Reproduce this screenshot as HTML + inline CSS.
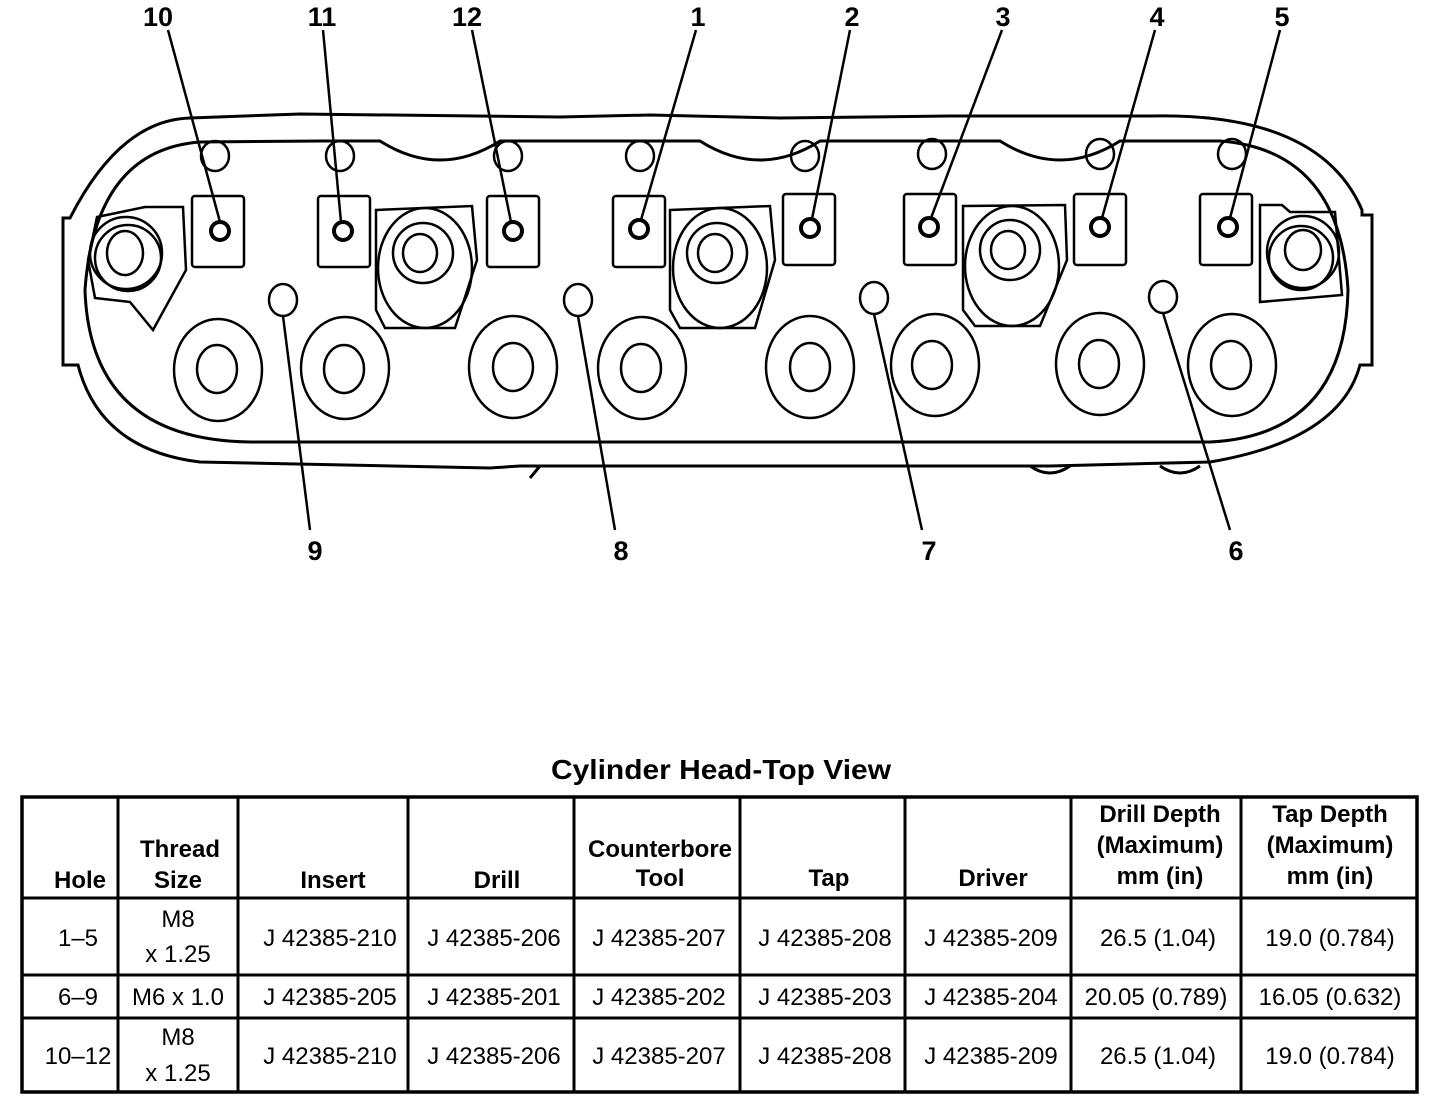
<!DOCTYPE html>
<html><head><meta charset="utf-8"><style>
html,body{margin:0;padding:0;background:#fff;}
svg{display:block;}
text{font-family:"Liberation Sans",Arial,sans-serif;fill:#000;}
.b{font-weight:bold;}
</style></head><body>
<svg width="1440" height="1108" viewBox="0 0 1440 1108" xmlns="http://www.w3.org/2000/svg">
<g fill="none" stroke="#000" stroke-width="3">
<!-- outer outline -->
<path d="M190,118 L300,114 L560,117 L650,115 L780,118 L950,116 L1150,116 Q1320,112 1362,210 L1362,215 L1372,215 L1372,365 L1360,365 Q1340,440 1210,462 L1050,466 L520,466 L490,468 L200,462 Q100,450 78,365 L63,365 L63,218 L70,218 Q120,120 190,118 Z"/>
<!-- inner outline -->
<path d="M200,142 L320,141 L380,141 Q410,160 440,160 Q470,160 500,141 L700,141 Q730,160 760,160 Q790,160 820,141 L1000,141 Q1030,160 1060,160 Q1090,160 1120,141 L1220,141 Q1340,150 1348,290 Q1345,435 1210,442 L250,442 Q90,440 85,290 Q95,150 200,142 Z"/>
<!-- bottom bumps -->
<path d="M1030,466 Q1050,480 1070,466 M1160,466 Q1180,480 1200,466 M540,466 L530,478" />
<!-- top small circles -->
<g stroke-width="2.5">
<ellipse cx="215" cy="156" rx="14" ry="15"/>
<ellipse cx="340" cy="156" rx="14" ry="15"/>
<ellipse cx="508" cy="156" rx="14" ry="15"/>
<ellipse cx="640" cy="156" rx="14" ry="15"/>
<ellipse cx="805" cy="156" rx="14" ry="15"/>
<ellipse cx="932" cy="154" rx="14" ry="15"/>
<ellipse cx="1100" cy="154" rx="14" ry="15"/>
<ellipse cx="1232" cy="154" rx="14" ry="15"/>
</g>
<!-- pads -->
<g stroke-width="2.5">
<rect x="192" y="196" width="52" height="71" rx="3"/>
<rect x="318" y="196" width="52" height="71" rx="3"/>
<rect x="487" y="196" width="52" height="71" rx="3"/>
<rect x="613" y="196" width="52" height="71" rx="3"/>
<rect x="783" y="194" width="52" height="71" rx="3"/>
<rect x="904" y="194" width="52" height="71" rx="3"/>
<rect x="1074" y="194" width="52" height="71" rx="3"/>
<rect x="1200" y="194" width="52" height="71" rx="3"/>
</g>
<g stroke-width="4">
<circle cx="220" cy="231" r="9"/>
<circle cx="343" cy="231" r="9"/>
<circle cx="513" cy="231" r="9"/>
<circle cx="639" cy="229" r="9"/>
<circle cx="810" cy="228" r="9"/>
<circle cx="929" cy="227" r="9"/>
<circle cx="1100" cy="227" r="9"/>
<circle cx="1228" cy="227" r="9"/>
</g>
<!-- spark plug bosses -->
<g stroke-width="2.5">
<path d="M376,210 L472,206 L477,260 L455,328 L385,328 L376,310 Z"/>
<ellipse cx="425" cy="268" rx="47" ry="60"/>
<ellipse cx="423" cy="253" rx="30" ry="30"/>
<ellipse cx="420" cy="253" rx="17" ry="19"/>
<path d="M670,210 L770,206 L775,260 L755,328 L680,328 L670,310 Z"/>
<ellipse cx="720" cy="268" rx="47" ry="60"/>
<ellipse cx="717" cy="253" rx="30" ry="30"/>
<ellipse cx="715" cy="253" rx="17" ry="19"/>
<path d="M963,206 L1065,205 L1067,260 L1040,326 L975,326 L963,310 Z"/>
<ellipse cx="1012" cy="266" rx="47" ry="60"/>
<ellipse cx="1010" cy="250" rx="30" ry="30"/>
<ellipse cx="1008" cy="250" rx="17" ry="19"/>
<!-- end plugs -->
<path d="M97,217 L145,207 L183,207 L186,270 L153,330 L130,302 L95,298 L88,260 Z"/>
<circle cx="126" cy="253" r="36"/><circle cx="128" cy="258" r="33"/>
<ellipse cx="125" cy="253" rx="18" ry="22"/>
<path d="M1260,205 L1282,205 L1290,212 L1335,212 L1342,295 L1260,302 Z"/>
<circle cx="1303" cy="252" r="36"/><circle cx="1301" cy="258" r="32"/>
<ellipse cx="1303" cy="250" rx="18" ry="20"/>
<!-- small holes 9-6 -->
<ellipse cx="283" cy="300" rx="14" ry="16"/>
<ellipse cx="578" cy="300" rx="14" ry="16"/>
<ellipse cx="874" cy="298" rx="14" ry="16"/>
<ellipse cx="1163" cy="297" rx="14" ry="16"/>
<!-- large circles -->
<ellipse cx="218" cy="370" rx="44" ry="51"/><ellipse cx="217" cy="369" rx="20" ry="24"/>
<ellipse cx="345" cy="368" rx="44" ry="51"/><ellipse cx="344" cy="369" rx="20" ry="24"/>
<ellipse cx="513" cy="367" rx="44" ry="51"/><ellipse cx="513" cy="367" rx="20" ry="24"/>
<ellipse cx="642" cy="368" rx="44" ry="51"/><ellipse cx="641" cy="368" rx="20" ry="24"/>
<ellipse cx="810" cy="367" rx="44" ry="51"/><ellipse cx="810" cy="367" rx="20" ry="24"/>
<ellipse cx="935" cy="365" rx="44" ry="51"/><ellipse cx="932" cy="365" rx="20" ry="24"/>
<ellipse cx="1100" cy="364" rx="44" ry="51"/><ellipse cx="1099" cy="364" rx="20" ry="24"/>
<ellipse cx="1232" cy="365" rx="44" ry="51"/><ellipse cx="1231" cy="365" rx="20" ry="24"/>
</g>
<!-- leaders -->
<g stroke-width="2.5">
<line x1="168" y1="30" x2="220" y2="222"/>
<line x1="323" y1="30" x2="341" y2="222"/>
<line x1="472" y1="30" x2="511" y2="222"/>
<line x1="696" y1="30" x2="641" y2="220"/>
<line x1="850" y1="30" x2="812" y2="219"/>
<line x1="1002" y1="30" x2="931" y2="218"/>
<line x1="1155" y1="30" x2="1102" y2="218"/>
<line x1="1280" y1="30" x2="1230" y2="218"/>
<line x1="283" y1="316" x2="310" y2="530"/>
<line x1="578" y1="316" x2="615" y2="530"/>
<line x1="874" y1="314" x2="922" y2="530"/>
<line x1="1163" y1="313" x2="1230" y2="530"/>
</g>
</g>
<g class="b" font-size="27" text-anchor="middle">
<text x="158" y="26">10</text><text x="322" y="26">11</text><text x="467" y="26">12</text>
<text x="698" y="26">1</text><text x="852" y="26">2</text><text x="1003" y="26">3</text>
<text x="1157" y="26">4</text><text x="1282" y="26">5</text>
<text x="315" y="560">9</text><text x="621" y="560">8</text><text x="929" y="560">7</text><text x="1236" y="560">6</text>
</g>
<text class="b" x="721" y="779" font-size="28" text-anchor="middle" textLength="340" lengthAdjust="spacingAndGlyphs">Cylinder Head-Top View</text>
<!-- table -->
<g stroke="#000" fill="none">
<rect x="22" y="797" width="1395" height="295" stroke-width="3.5"/>
<g stroke-width="3">
<line x1="118" y1="797" x2="118" y2="1092"/><line x1="238" y1="797" x2="238" y2="1092"/>
<line x1="408" y1="797" x2="408" y2="1092"/><line x1="574" y1="797" x2="574" y2="1092"/>
<line x1="740" y1="797" x2="740" y2="1092"/><line x1="905" y1="797" x2="905" y2="1092"/>
<line x1="1071" y1="797" x2="1071" y2="1092"/><line x1="1241" y1="797" x2="1241" y2="1092"/>
<line x1="22" y1="898" x2="1417" y2="898"/><line x1="22" y1="975" x2="1417" y2="975"/>
<line x1="22" y1="1018" x2="1417" y2="1018"/>
</g>
</g>
<g class="b" font-size="24" text-anchor="middle">
<text x="80" y="888">Hole</text>
<text x="180" y="857">Thread</text><text x="178" y="888">Size</text>
<text x="333" y="888">Insert</text>
<text x="497" y="888">Drill</text>
<text x="660" y="857">Counterbore</text><text x="660" y="886">Tool</text>
<text x="829" y="886">Tap</text>
<text x="993" y="886">Driver</text>
<text x="1160" y="822">Drill Depth</text><text x="1160" y="853">(Maximum)</text><text x="1160" y="884">mm (in)</text>
<text x="1330" y="822">Tap Depth</text><text x="1330" y="853">(Maximum)</text><text x="1330" y="884">mm (in)</text>
</g>
<g font-size="24" text-anchor="middle">
<text x="78" y="946">1–5</text><text x="178" y="927">M8</text><text x="178" y="962">x 1.25</text>
<text x="330" y="946">J 42385-210</text><text x="494" y="946">J 42385-206</text><text x="659" y="946">J 42385-207</text>
<text x="825" y="946">J 42385-208</text><text x="991" y="946">J 42385-209</text><text x="1158" y="946">26.5 (1.04)</text><text x="1330" y="946">19.0 (0.784)</text>
<text x="78" y="1005">6–9</text><text x="178" y="1005">M6 x 1.0</text>
<text x="330" y="1005">J 42385-205</text><text x="494" y="1005">J 42385-201</text><text x="659" y="1005">J 42385-202</text>
<text x="825" y="1005">J 42385-203</text><text x="991" y="1005">J 42385-204</text><text x="1156" y="1005">20.05 (0.789)</text><text x="1330" y="1005">16.05 (0.632)</text>
<text x="78" y="1064">10–12</text><text x="178" y="1045">M8</text><text x="178" y="1081">x 1.25</text>
<text x="330" y="1064">J 42385-210</text><text x="494" y="1064">J 42385-206</text><text x="659" y="1064">J 42385-207</text>
<text x="825" y="1064">J 42385-208</text><text x="991" y="1064">J 42385-209</text><text x="1158" y="1064">26.5 (1.04)</text><text x="1330" y="1064">19.0 (0.784)</text>
</g>
</svg>
</body></html>
